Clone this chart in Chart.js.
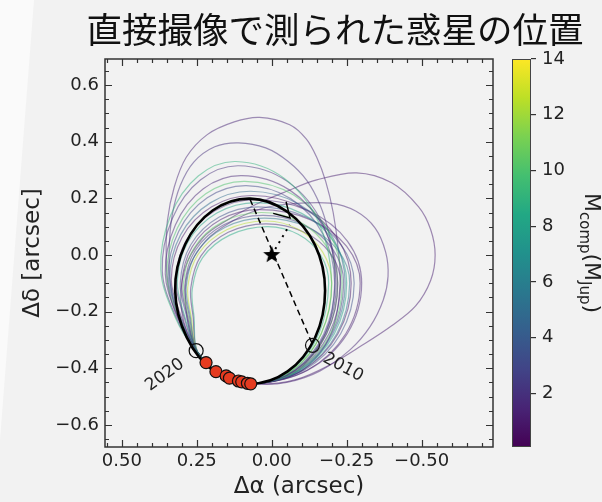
<!DOCTYPE html>
<html>
<head>
<meta charset="utf-8">
<script src="https://cdn.jsdelivr.net/npm/chart.js@4.4.1/dist/chart.umd.min.js"></script>
<style>
  html, body { margin: 0; padding: 0; }
  body { width: 602px; height: 502px; background: #f2f2f2; position: relative; overflow: hidden; }
  #sheet { position: absolute; left: 0; top: 0; width: 80px; height: 502px; background: #fafafa; clip-path: polygon(0 0, 34px 0, 0 440px); }
  #main { position: absolute; left: 0; top: 0; }
  #cbar { position: absolute; left: 505px; top: 0; }
</style>
</head>
<body>
<div id="sheet"></div>
<canvas id="main" width="602" height="502"></canvas>
<canvas id="cbar" width="97" height="502"></canvas>
<script>
// axis ticks
const xTickVals = [0.5, 0.25, 0, -0.25, -0.5];
const yTickVals = [-0.6, -0.4, -0.2, 0, 0.2, 0.4, 0.6];
const massTickVals = [2, 4, 6, 8, 10, 12, 14];
const massRange = [0.08, 14];

// measured positions (arcsec)
const obsRA  = [0.219, 0.186, 0.152, 0.141, 0.111, 0.100, 0.081, 0.070];
const obsDec = [-0.380, -0.412, -0.427, -0.435, -0.445, -0.448, -0.453, -0.455];

// predicted positions at the marked epochs
const epochLabels = ['2020', '2010'];
const epochRA  = [0.252, -0.136];
const epochDec = [-0.338, -0.319];
const epochTextRA  = [0.356, -0.238];
const epochTextDec = [-0.424, -0.397];

// best-fit orbit and its markers
const bestOrbit = [[0.072,-0.455],[0.19,-0.413],[0.283,-0.292],[0.322,-0.125],[0.2885,0.038],[0.197,0.157],[0.072,0.199],[-0.053,0.152],[-0.1445,0.035],[-0.178,-0.125],[-0.1445,-0.292],[-0.053,-0.411],[0.072,-0.455]];
const nodeLine = [[0.072, 0.196], [-0.137, -0.318]];
const periLine = [[0, 0], [-0.06, 0.107]];
const arrowHead = [[-0.005, 0.147], [-0.061, 0.131], [-0.048, 0.188]];

// sampled orbits, companion mass (M_Jup) for each
const orbitMass = [9, 2, 1.5, 10, 3, 5, 1, 8, 3.5, 1.2, 10.5, 2.5, 5.5, 12.5, 1.8, 8.5, 1.5, 1.5, 2, 1.2, 1.5];
const orbitTracks = [
  [[0.06,-0.455],[0.16,-0.43],[0.255,-0.335],[0.322,-0.22],[0.37,-0.051],[0.337,0.14],[0.245,0.279],[0.12,0.33],[-0.04,0.272],[-0.157,0.115],[-0.20,-0.10],[-0.165,-0.278],[-0.07,-0.407],[0.06,-0.455]],
  [[0.06,-0.455],[0.16,-0.43],[0.255,-0.335],[0.319,-0.22],[0.365,-0.056],[0.331,0.13],[0.238,0.265],[0.11,0.315],[-0.053,0.259],[-0.171,0.108],[-0.215,-0.10],[-0.178,-0.278],[-0.078,-0.407],[0.06,-0.455]],
  [[0.06,-0.455],[0.16,-0.43],[0.253,-0.337],[0.313,-0.22],[0.355,-0.066],[0.321,0.107],[0.228,0.234],[0.10,0.28],[-0.06,0.229],[-0.177,0.09],[-0.22,-0.10],[-0.183,-0.278],[-0.08,-0.407],[0.06,-0.455]],
  [[0.06,-0.455],[0.16,-0.43],[0.253,-0.337],[0.31,-0.22],[0.35,-0.072],[0.315,0.094],[0.22,0.216],[0.09,0.26],[-0.073,0.212],[-0.191,0.08],[-0.235,-0.10],[-0.196,-0.278],[-0.088,-0.407],[0.06,-0.455]],
  [[0.06,-0.455],[0.16,-0.43],[0.252,-0.338],[0.307,-0.22],[0.345,-0.077],[0.31,0.084],[0.215,0.202],[0.085,0.245],[-0.063,0.199],[-0.171,0.073],[-0.21,-0.10],[-0.174,-0.278],[-0.075,-0.407],[0.06,-0.455]],
  [[0.06,-0.455],[0.16,-0.43],[0.252,-0.338],[0.304,-0.22],[0.34,-0.083],[0.304,0.071],[0.205,0.184],[0.07,0.225],[-0.088,0.181],[-0.203,0.063],[-0.245,-0.10],[-0.204,-0.278],[-0.093,-0.407],[0.06,-0.455]],
  [[0.06,-0.455],[0.16,-0.43],[0.251,-0.339],[0.301,-0.22],[0.335,-0.087],[0.299,0.062],[0.20,0.17],[0.065,0.21],[-0.10,0.168],[-0.221,0.055],[-0.265,-0.10],[-0.221,-0.278],[-0.103,-0.407],[0.06,-0.455]],
  [[0.06,-0.455],[0.16,-0.43],[0.25,-0.34],[0.289,-0.22],[0.315,-0.095],[0.28,0.045],[0.183,0.148],[0.05,0.185],[-0.10,0.147],[-0.21,0.043],[-0.25,-0.10],[-0.209,-0.278],[-0.095,-0.407],[0.06,-0.455]],
  [[0.06,-0.455],[0.16,-0.43],[0.25,-0.34],[0.283,-0.22],[0.305,-0.099],[0.27,0.036],[0.175,0.134],[0.045,0.17],[-0.115,0.134],[-0.232,0.035],[-0.275,-0.10],[-0.23,-0.278],[-0.108,-0.407],[0.06,-0.455]],
  [[0.06,-0.455],[0.16,-0.43],[0.249,-0.341],[0.28,-0.22],[0.30,-0.102],[0.265,0.029],[0.17,0.125],[0.04,0.16],[-0.128,0.125],[-0.25,0.03],[-0.295,-0.10],[-0.247,-0.278],[-0.118,-0.407],[0.06,-0.455]],
  [[0.06,-0.455],[0.16,-0.43],[0.249,-0.341],[0.277,-0.22],[0.295,-0.105],[0.26,0.023],[0.165,0.116],[0.035,0.15],[-0.093,0.117],[-0.186,0.025],[-0.22,-0.10],[-0.183,-0.278],[-0.08,-0.407],[0.06,-0.455]],
  [[0.06,-0.455],[0.16,-0.43],[0.248,-0.342],[0.274,-0.22],[0.29,-0.108],[0.255,0.016],[0.16,0.107],[0.03,0.14],[-0.105,0.108],[-0.204,0.02],[-0.24,-0.10],[-0.20,-0.278],[-0.09,-0.407],[0.06,-0.455]],
  [[0.06,-0.455],[0.16,-0.43],[0.248,-0.342],[0.271,-0.22],[0.285,-0.111],[0.25,0.01],[0.155,0.098],[0.025,0.13],[-0.118,0.099],[-0.222,0.015],[-0.26,-0.10],[-0.217,-0.278],[-0.10,-0.407],[0.06,-0.455]],
  [[0.06,-0.455],[0.16,-0.43],[0.247,-0.343],[0.268,-0.22],[0.28,-0.114],[0.245,0.003],[0.15,0.089],[0.02,0.12],[-0.09,0.09],[-0.17,0.01],[-0.20,-0.10],[-0.165,-0.278],[-0.07,-0.407],[0.06,-0.455]],
  [[0.06,-0.455],[0.16,-0.43],[0.247,-0.343],[0.262,-0.22],[0.27,-0.117],[0.236,-0.003],[0.145,0.08],[0.02,0.11],[-0.105,0.082],[-0.196,0.005],[-0.23,-0.10],[-0.191,-0.278],[-0.085,-0.407],[0.06,-0.455]],
  [[0.06,-0.455],[0.16,-0.43],[0.246,-0.344],[0.259,-0.22],[0.265,-0.12],[0.231,-0.01],[0.14,0.07],[0.015,0.10],[-0.088,0.073],[-0.163,0.0],[-0.19,-0.10],[-0.157,-0.278],[-0.065,-0.407],[0.06,-0.455]],
  [[0.06,-0.455],[0.16,-0.43],[0.251,-0.339],[0.292,-0.22],[0.32,-0.092],[0.285,0.052],[0.188,0.157],[0.055,0.195],[-0.123,0.156],[-0.253,0.048],[-0.30,-0.10],[-0.252,-0.278],[-0.12,-0.407],[0.06,-0.455]],
  [[0.06,-0.455],[0.16,-0.43],[0.25,-0.34],[0.315,-0.22],[0.345,-0.11],[0.352,0.0],[0.348,0.12],[0.325,0.24],[0.285,0.345],[0.215,0.425],[0.125,0.47],[0.04,0.486],[-0.06,0.46],[-0.115,0.41],[-0.15,0.345],[-0.18,0.26],[-0.205,0.15],[-0.222,0.02],[-0.228,-0.1],[-0.21,-0.24],[-0.165,-0.34],[-0.08,-0.42],[0.06,-0.455]],
  [[0.06,-0.455],[0.16,-0.43],[0.25,-0.34],[0.312,-0.22],[0.338,-0.1],[0.342,0.02],[0.332,0.14],[0.305,0.245],[0.26,0.328],[0.19,0.382],[0.111,0.396],[0.02,0.378],[-0.055,0.33],[-0.118,0.262],[-0.162,0.175],[-0.19,0.08],[-0.207,-0.02],[-0.21,-0.12],[-0.192,-0.24],[-0.145,-0.34],[-0.07,-0.42],[0.06,-0.455]],
  [[0.04,-0.455],[0.16,-0.43],[0.25,-0.34],[0.30,-0.20],[0.29,-0.05],[0.23,0.06],[0.145,0.125],[0.05,0.18],[-0.05,0.225],[-0.15,0.265],[-0.283,0.29],[-0.40,0.255],[-0.49,0.17],[-0.53,0.09],[-0.545,0.0],[-0.53,-0.09],[-0.48,-0.18],[-0.40,-0.25],[-0.30,-0.32],[-0.19,-0.39],[-0.08,-0.44],[0.04,-0.455]],
  [[0.05,-0.455],[0.16,-0.43],[0.25,-0.34],[0.285,-0.20],[0.28,-0.06],[0.22,0.05],[0.13,0.12],[0.03,0.165],[-0.061,0.18],[-0.194,0.183],[-0.28,0.155],[-0.345,0.095],[-0.38,0.01],[-0.388,-0.075],[-0.372,-0.159],[-0.328,-0.253],[-0.261,-0.335],[-0.16,-0.41],[-0.05,-0.45],[0.05,-0.455]]
];

const viridis = ['#440154','#482475','#414487','#355f8d','#2a788e','#21918c','#22a884','#44bf70','#7ad151','#bddf26','#fde725'];
const FONT = 'DejaVu Sans';
Chart.defaults.font.family = FONT;
Chart.defaults.color = '#222';

function rgbOf(hex) {
  const n = parseInt(hex.slice(1), 16);
  return [(n >> 16) & 255, (n >> 8) & 255, n & 255];
}

function massColor(m, alpha) {
  let t = (m - massRange[0]) / (massRange[1] - massRange[0]);
  t = Math.max(0, Math.min(1, t)) * 10;
  const i = Math.min(9, Math.floor(t));
  const u = t - i;
  const a = rgbOf(viridis[i]), b = rgbOf(viridis[i + 1]);
  const c = a.map((v, k) => Math.round(v + (b[k] - v) * u));
  return `rgba(${c[0]},${c[1]},${c[2]},${alpha})`;
}

function toXY(list) {
  return list.map(p => ({ x: p[0], y: p[1] }));
}

// closed track: carry on one point past the start so the join is smooth
function closed(track) {
  return track.concat([track[1]]);
}

function starImage(r) {
  const c = document.createElement('canvas');
  c.width = c.height = 2 * r + 2;
  const g = c.getContext('2d');
  g.beginPath();
  for (let k = 0; k < 10; k++) {
    const rad = k % 2 ? r * 0.42 : r;
    const a = -Math.PI / 2 + k * Math.PI / 5;
    g.lineTo(r + 1 + rad * Math.cos(a), r + 1 + rad * Math.sin(a));
  }
  g.closePath();
  g.fillStyle = '#000';
  g.fill();
  return c;
}

function fmtMinus(s) {
  return s.replace('-', '\u2212');
}

function curve(points, color, width, tension, order, dash) {
  return {
    data: toXY(points),
    showLine: true,
    borderColor: color,
    borderWidth: width,
    borderDash: dash || [],
    pointRadius: 0,
    tension: tension,
    fill: false,
    order: order
  };
}

const orbitSets = orbitTracks.map((trk, i) => curve(closed(trk), massColor(orbitMass[i], 0.5), 1.2, 0.35, 10));

const datasets = [
  {
    data: obsRA.map((v, i) => ({ x: v, y: obsDec[i] })),
    showLine: false,
    pointRadius: 6,
    backgroundColor: '#e53b20',
    borderColor: '#111',
    borderWidth: 1.2,
    order: 0
  },
  {
    data: epochRA.map((v, i) => ({ x: v, y: epochDec[i] })),
    showLine: false,
    pointRadius: 7,
    backgroundColor: 'rgba(0,0,0,0)',
    borderColor: '#111',
    borderWidth: 1.2,
    order: 1
  },
  {
    data: [{ x: 0, y: 0 }],
    showLine: false,
    pointStyle: starImage(9),
    pointRadius: 9,
    order: 1
  },
  curve(closed(bestOrbit), '#000', 2.6, 0.35, 2),
  curve(nodeLine, '#000', 1.5, 0, 2, [6, 4]),
  curve(periLine, '#000', 2, 0, 2, [2, 5]),
  curve(arrowHead, '#000', 1.5, 0, 2),
  ...orbitSets
];

// inward ticks on all four sides, frame and title
const frameTicks = {
  id: 'frameTicks',
  afterDraw(chart) {
    const { ctx, chartArea: a, scales: { x, y } } = chart;
    ctx.save();
    ctx.strokeStyle = '#333';
    ctx.lineWidth = 1.2;
    ctx.beginPath();
    const xt = (v, len) => {
      const p = Math.round(x.getPixelForValue(v)) + 0.5;
      ctx.moveTo(p, a.bottom); ctx.lineTo(p, a.bottom - len);
      ctx.moveTo(p, a.top); ctx.lineTo(p, a.top + len);
    };
    const yt = (v, len) => {
      const p = Math.round(y.getPixelForValue(v)) + 0.5;
      ctx.moveTo(a.left, p); ctx.lineTo(a.left + len, p);
      ctx.moveTo(a.right, p); ctx.lineTo(a.right - len, p);
    };
    xTickVals.forEach(v => xt(v, 7));
    yTickVals.forEach(v => yt(v, 7));
    for (let k = -14; k <= 11; k++) if (k % 5 !== 0) xt(k * 0.05, 4);
    for (let k = -13; k <= 13; k++) if (k % 4 !== 0) yt(k * 0.05, 4);
    ctx.stroke();
    ctx.lineWidth = 1.5;
    ctx.strokeRect(a.left, a.top, a.width, a.height);

    ctx.fillStyle = '#111';
    ctx.font = '35.5px "Noto Sans CJK JP"';
    ctx.textAlign = 'center';
    ctx.textBaseline = 'middle';
    ctx.fillText('直接撮像で測られた惑星の位置', 335, 30);
    ctx.restore();
  }
};

const epochText = {
  id: 'epochText',
  afterDatasetsDraw(chart) {
    const { ctx, scales: { x, y } } = chart;
    const angles = [-36, 28];
    ctx.save();
    ctx.font = `17px "${FONT}"`;
    ctx.fillStyle = '#222';
    ctx.textAlign = 'center';
    ctx.textBaseline = 'middle';
    epochLabels.forEach((t, i) => {
      ctx.save();
      ctx.translate(x.getPixelForValue(epochTextRA[i]), y.getPixelForValue(epochTextDec[i]));
      ctx.rotate(angles[i] * Math.PI / 180);
      ctx.fillText(t, 0, 0);
      ctx.restore();
    });
    ctx.restore();
  }
};

new Chart(document.getElementById('main'), {
  type: 'line',
  data: { datasets },
  options: {
    responsive: false,
    animation: false,
    layout: { padding: { left: 0, top: 59, right: 109, bottom: 0 } },
    plugins: { legend: { display: false }, tooltip: { enabled: false } },
    scales: {
      x: {
        type: 'linear',
        reverse: true,
        min: -0.738,
        max: 0.556,
        afterBuildTicks: s => { s.ticks = xTickVals.map(v => ({ value: v })); },
        afterFit: s => { s.height = 55; },
        ticks: {
          autoSkip: false,
          maxRotation: 0,
          padding: 4,
          font: { size: 18 },
          color: '#222',
          callback: v => fmtMinus(Number(v).toFixed(2))
        },
        grid: { display: false, drawTicks: false },
        border: { display: false },
        title: { display: true, text: 'Δα (arcsec)', font: { size: 23 }, color: '#222', padding: { top: 0, bottom: 1 } }
      },
      y: {
        type: 'linear',
        min: -0.678,
        max: 0.692,
        afterBuildTicks: s => { s.ticks = yTickVals.map(v => ({ value: v })); },
        afterFit: s => { s.width = 105; },
        ticks: {
          autoSkip: false,
          padding: 6,
          font: { size: 18 },
          color: '#222',
          callback: v => fmtMinus(Number(v).toFixed(1))
        },
        grid: { display: false, drawTicks: false },
        border: { display: false },
        title: { display: true, text: 'Δδ [arcsec]', font: { size: 23 }, color: '#222', padding: { top: 19, bottom: 0 } }
      }
    }
  },
  plugins: [frameTicks, epochText]
});

// colour bar
const cbLabel = {
  id: 'cbLabel',
  afterDraw(chart) {
    const { ctx, chartArea: a } = chart;
    ctx.save();
    ctx.strokeStyle = '#444';
    ctx.lineWidth = 1;
    ctx.strokeRect(a.left + 0.5, a.top + 0.5, a.width - 1, a.height - 1);
    ctx.fillStyle = '#222';
    ctx.textBaseline = 'alphabetic';
    ctx.translate(80, 193);
    ctx.rotate(Math.PI / 2);
    const parts = [['M', 22, 0], ['comp', 15, 5], ['(M', 22, 0], ['Jup', 15, 5], [')', 22, 0]];
    let cx = 0;
    parts.forEach(([s, size, dy]) => {
      ctx.font = `${size}px "${FONT}"`;
      ctx.fillText(s, cx, dy);
      cx += ctx.measureText(s).width;
    });
    ctx.restore();
  }
};

new Chart(document.getElementById('cbar'), {
  type: 'bar',
  data: {
    labels: [''],
    datasets: [{
      data: [massRange],
      borderWidth: 0,
      barPercentage: 1,
      categoryPercentage: 1,
      backgroundColor: c => {
        const { ctx, chartArea } = c.chart;
        if (!chartArea) return viridis[0];
        const g = ctx.createLinearGradient(0, chartArea.bottom, 0, chartArea.top);
        viridis.forEach((col, i) => g.addColorStop(i / 10, col));
        return g;
      }
    }]
  },
  options: {
    responsive: false,
    animation: false,
    layout: { padding: { left: 7, top: 59, right: 0, bottom: 55 } },
    plugins: { legend: { display: false }, tooltip: { enabled: false } },
    scales: {
      x: { display: false },
      y: {
        position: 'right',
        min: massRange[0],
        max: massRange[1],
        afterBuildTicks: s => { s.ticks = massTickVals.map(v => ({ value: v })); },
        afterFit: s => { s.width = 71; },
        ticks: { padding: 6, font: { size: 18 }, color: '#222' },
        grid: { display: true, drawOnChartArea: false, drawTicks: true, tickLength: 5, color: '#333', lineWidth: 1.2 },
        border: { display: false }
      }
    }
  },
  plugins: [cbLabel]
});
</script>
</body>
</html>
